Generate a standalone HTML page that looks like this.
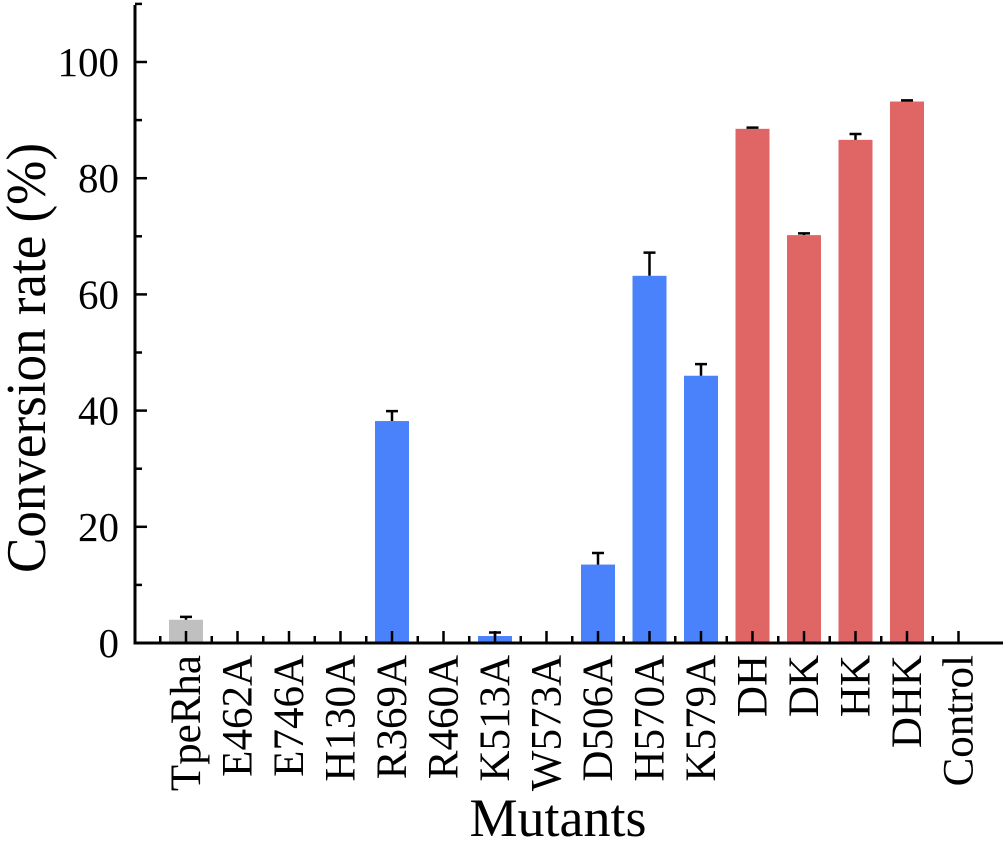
<!DOCTYPE html>
<html><head><meta charset="utf-8"><style>
body{margin:0;background:#fff}
svg{display:block;font-family:"Liberation Serif",serif}
</style></head><body>
<svg id="chart" width="1008" height="842"></svg>
<script>
const categories=["TpeRha","E462A","E746A","H130A","R369A","R460A","K513A","W573A","D506A","H570A","K579A","DH","DK","HK","DHK","Control"];
const values=[4,0,0,0,38.2,0,1.2,0,13.5,63.2,46,88.5,70.2,86.6,93.2,0];
const errors=[0.5,0,0,0,1.7,0,0.6,0,2,4,2,0.2,0.3,1,0.2,0];
const groups=["wt","blue","blue","blue","blue","blue","blue","blue","blue","blue","blue","red","red","red","red","blue"];
const yTicks=[0,20,40,60,80,100];
const yMinor=[10,30,50,70,90,110];
const colors={wt:"#c0c0c0",blue:"#4a82fb",red:"#e06666"};
const NS="http://www.w3.org/2000/svg";
const svg=document.getElementById('chart');
const x0=135,x1=1003,y0=643,yTop=5;
const yScale=v=>y0-v*5.81;
const xStep=51.5,xFirst=186;
const xScale=i=>xFirst+i*xStep;
function mk(t,a,p){const e=document.createElementNS(NS,t);for(const k in a)e.setAttribute(k,a[k]);(p||svg).appendChild(e);return e;}
categories.forEach((c,i)=>{
 if(values[i]>0){
  const cx=xScale(i),bw=34;
  const r=mk('rect',{x:cx-bw/2,y:yScale(values[i]),width:bw,height:y0-yScale(values[i]),fill:colors[groups[i]]});
  
  
  const top=yScale(values[i]+errors[i]);
  const e=mk('path',{d:`M${cx},${yScale(values[i])}V${top}M${cx-6},${top}H${cx+6}`,stroke:'#000','stroke-width':2.5,fill:'none'});
  
  
 }
 const tx=xScale(i);
 mk('line',{x1:tx,x2:tx,y1:y0,y2:y0-12,stroke:'#000','stroke-width':2.5});
 mk('line',{x1:tx-xStep/2,x2:tx-xStep/2,y1:y0,y2:y0-7,stroke:'#000','stroke-width':2.5});
 const t=mk('text',{x:0,y:0,transform:`translate(${tx+14},${y0+12}) rotate(-90)`,'text-anchor':'end','font-size':43});
 t.textContent=c;
 
 
});
yTicks.forEach(v=>{
 const y=yScale(v);
 mk('line',{x1:x0,x2:x0+12,y1:y,y2:y,stroke:'#000','stroke-width':2.5});
 const t=mk('text',{x:x0-16,y:y+14,'text-anchor':'end','font-size':41});
 t.textContent=v;
 
 
});
yMinor.forEach(v=>{
 const y=yScale(v);
 mk('line',{x1:x0,x2:x0+7,y1:y,y2:y,stroke:'#000','stroke-width':2.5});
});
const ax=mk('path',{d:`M${x0},${yTop}V${y0}H${x1}`,stroke:'#000','stroke-width':3,fill:'none'});


const yt=mk('text',{x:0,y:0,transform:`translate(45,358) rotate(-90)`,'text-anchor':'middle','font-size':56,textLength:430,lengthAdjust:'spacingAndGlyphs'});
yt.textContent='Conversion rate (%)';


const xt=mk('text',{x:558,y:836,'text-anchor':'middle','font-size':54});
xt.textContent='Mutants';


</script>
</body></html>
